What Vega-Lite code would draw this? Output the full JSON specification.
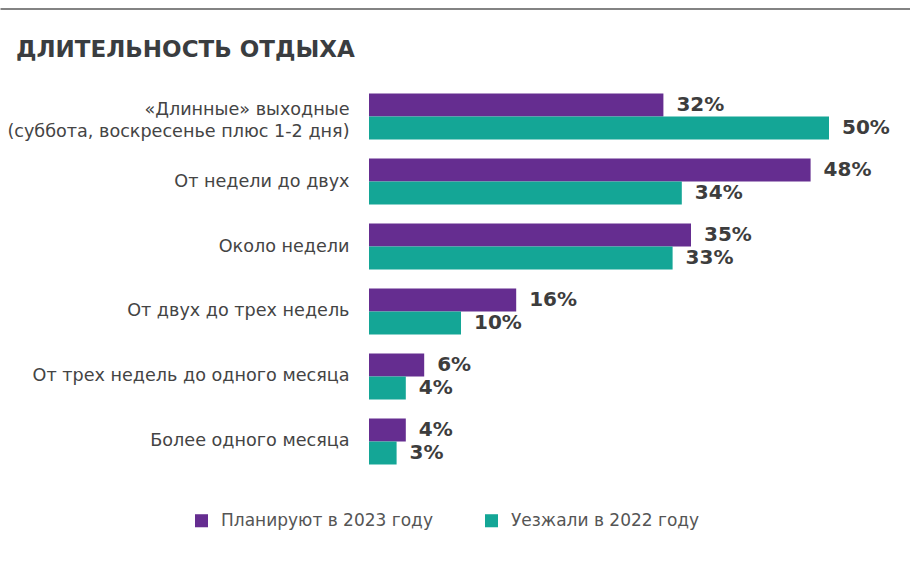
{
  "$schema": "https://vega.github.io/schema/vega-lite/v6.json",
  "width": 910,
  "height": 390,
  "padding": {"top": 8, "left": 0, "right": 0, "bottom": 10},
  "autosize": {"type": "pad"},
  "background": "white",
  "config": {"view": {"stroke": null}, "font": "DejaVu Sans"},
  "title": {
    "text": "ДЛИТЕЛЬНОСТЬ ОТДЫХА",
    "anchor": "start",
    "orient": "top",
    "fontSize": 23,
    "fontWeight": "bold",
    "font": "DejaVu Sans",
    "color": "#3a3d40",
    "offset": -53,
    "dx": 16
  },
  "data": {
    "values": [
      {"category": "«Длинные» выходные|(суббота, воскресенье плюс 1-2 дня)", "series": "Планируют в 2023 году", "value": 0.32},
      {"category": "«Длинные» выходные|(суббота, воскресенье плюс 1-2 дня)", "series": "Уезжали в 2022 году", "value": 0.50},
      {"category": "От недели до двух", "series": "Планируют в 2023 году", "value": 0.48},
      {"category": "От недели до двух", "series": "Уезжали в 2022 году", "value": 0.34},
      {"category": "Около недели", "series": "Планируют в 2023 году", "value": 0.35},
      {"category": "Около недели", "series": "Уезжали в 2022 году", "value": 0.33},
      {"category": "От двух до трех недель", "series": "Планируют в 2023 году", "value": 0.16},
      {"category": "От двух до трех недель", "series": "Уезжали в 2022 году", "value": 0.10},
      {"category": "От трех недель до одного месяца", "series": "Планируют в 2023 году", "value": 0.06},
      {"category": "От трех недель до одного месяца", "series": "Уезжали в 2022 году", "value": 0.04},
      {"category": "Более одного месяца", "series": "Планируют в 2023 году", "value": 0.04},
      {"category": "Более одного месяца", "series": "Уезжали в 2022 году", "value": 0.03}
    ]
  },
  "encoding": {
    "y": {
      "field": "category",
      "type": "nominal",
      "sort": null,
      "scale": {"paddingInner": 0.2923, "paddingOuter": 0.1462},
      "axis": {
        "title": null,
        "orient": "left",
        "offset": -369,
        "domain": false,
        "ticks": false,
        "labelPadding": 20,
        "labelFontSize": 17.6,
        "labelColor": "#444444",
        "labelLineHeight": 22,
        "labelLimit": 400,
        "labelOffset": {"condition": {"test": "indexof(datum.value, '|') >= 0", "value": -7}, "value": 0},
        "labelExpr": "split(datum.label, '|')"
      }
    },
    "yOffset": {
      "field": "series",
      "type": "nominal",
      "sort": ["Планируют в 2023 году", "Уезжали в 2022 году"],
      "scale": {"paddingInner": 0, "paddingOuter": 0}
    },
    "x": {
      "field": "value",
      "type": "quantitative",
      "scale": {"domain": [-0.40109, 0.58804], "nice": false, "zero": false},
      "axis": {
        "orient": "top",
        "offset": 75.5,
        "title": null,
        "labels": false,
        "ticks": false,
        "grid": false,
        "domain": true,
        "domainColor": "#5a5a5a",
        "domainWidth": 1.5
      }
    }
  },
  "layer": [
    {
      "mark": {"type": "bar"},
      "encoding": {
        "x2": {"datum": 0},
        "color": {
          "field": "series",
          "type": "nominal",
          "sort": ["Планируют в 2023 году", "Уезжали в 2022 году"],
          "scale": {"range": ["#652d90", "#14a696"]},
          "legend": {
            "title": null,
            "orient": "none",
            "legendX": 193,
            "legendY": 428,
            "direction": "horizontal",
            "symbolType": "square",
            "symbolSize": 170,
            "symbolStrokeWidth": 0,
            "labelFontSize": 17,
            "labelColor": "#555555",
            "labelOffset": 11,
            "labelLimit": 400,
            "columnPadding": 50
          }
        }
      }
    },
    {
      "mark": {"type": "text", "align": "left", "baseline": "middle", "dx": 13, "fontSize": 20, "fontWeight": "bold", "color": "#3d3d3d"},
      "encoding": {
        "text": {"field": "value", "type": "quantitative", "format": ".0%"},
        "detail": {"field": "series"}
      }
    }
  ]
}
